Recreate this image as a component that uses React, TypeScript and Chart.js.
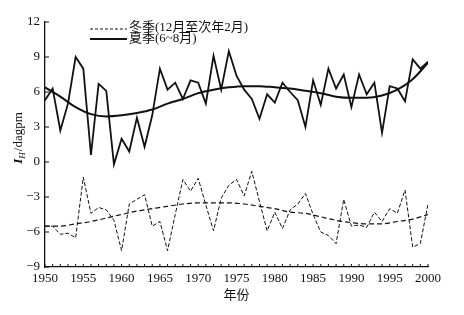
import React, { useEffect, useRef } from "react";
import { Chart, registerables } from "chart.js";

Chart.register(...registerables);

const years: number[] = [];
for (let y = 1950; y <= 2000; y++) years.push(y);

const summerValues = [
  5.3, 6.3, 2.7, 5.0, 9.0, 8.0, 0.6, 6.7, 6.1, -0.2,
  2.0, 0.9, 3.8, 1.3, 4.0, 8.0, 6.2, 6.8, 5.4, 7.0,
  6.8, 5.0, 9.1, 6.2, 9.5, 7.4, 6.2, 5.4, 3.7, 5.8,
  5.1, 6.8, 6.0, 5.3, 3.0, 7.0, 4.9, 8.0, 6.3, 7.5,
  4.7, 7.5, 5.8, 6.8, 2.5, 6.5, 6.3, 5.2, 8.8, 8.0,
  8.6,
];

const winterValues = [
  -5.5, -5.5, -6.2, -6.1, -6.5, -1.3, -4.4, -3.9, -4.1, -5.0,
  -7.6, -3.6, -3.2, -2.8, -5.5, -5.1, -7.6, -4.5, -1.5, -2.5,
  -1.4, -3.7, -5.9, -3.1, -2.0, -1.5, -2.9, -0.8, -3.4, -5.9,
  -4.3, -5.7, -4.1, -3.6, -2.7, -4.5, -6.0, -6.3, -7.0, -3.2,
  -5.5, -5.4, -5.6, -4.3, -5.1, -4.0, -4.4, -2.4, -7.3, -7.0,
  -3.6,
];

const trendYears = [
  1950, 1952, 1954, 1956, 1958, 1960, 1962, 1964, 1966, 1968, 1970, 1972, 1974,
  1976, 1978, 1980, 1982, 1984, 1986, 1988, 1990, 1992, 1994, 1996, 1998, 2000,
];
const summerTrend = [
  6.4, 5.6, 4.7, 4.1, 3.9, 4.0, 4.2, 4.5, 5.0, 5.4, 5.9, 6.2, 6.4,
  6.5, 6.5, 6.4, 6.3, 6.1, 5.9, 5.6, 5.5, 5.5, 5.7, 6.2, 7.1, 8.5,
];
const winterTrend = [
  -5.5, -5.5, -5.3, -5.1, -4.8, -4.5, -4.2, -4.0, -3.8, -3.6, -3.5, -3.5, -3.5,
  -3.6, -3.8, -4.0, -4.3, -4.4, -4.7, -5.0, -5.2, -5.3, -5.3, -5.1, -4.9, -4.5,
];

const yTicks = [-9, -6, -3, 0, 3, 6, 9, 12];
const xTicks = [1950, 1955, 1960, 1965, 1970, 1975, 1980, 1985, 1990, 1995, 2000];

const legendWinter = "冬季(12月至次年2月)";
const legendSummer = "夏季(6~8月)";
const xTitle = "年份";

const FONT = "'Liberation Serif', 'Noto Sans CJK SC', serif";
const INK = "#111111";

const pts = (xs: number[], ys: number[]) => xs.map((x, i) => ({ x, y: ys[i] }));

const decorPlugin = {
  id: "decor",
  afterDraw(chart: any) {
    const { ctx, chartArea, scales } = chart;
    const xs = scales.x;
    const ys = scales.y;
    ctx.save();
    ctx.strokeStyle = INK;
    ctx.lineWidth = 1;
    yTicks.forEach((v) => {
      const py = ys.getPixelForValue(v);
      ctx.beginPath();
      ctx.moveTo(chartArea.left, py);
      ctx.lineTo(chartArea.left + 4, py);
      ctx.stroke();
    });
    years.forEach((yr) => {
      const px = xs.getPixelForValue(yr);
      ctx.beginPath();
      ctx.moveTo(px, chartArea.bottom);
      ctx.lineTo(px, chartArea.bottom - 3);
      ctx.stroke();
    });
    const lx0 = 90;
    const lx1 = 127;
    ctx.lineWidth = 1;
    ctx.setLineDash([3, 2]);
    ctx.beginPath();
    ctx.moveTo(lx0, 29);
    ctx.lineTo(lx1, 29);
    ctx.stroke();
    ctx.setLineDash([]);
    ctx.lineWidth = 1.8;
    ctx.beginPath();
    ctx.moveTo(lx0, 39);
    ctx.lineTo(lx1, 39);
    ctx.stroke();
    ctx.fillStyle = INK;
    ctx.font = `13px ${FONT}`;
    ctx.textBaseline = "middle";
    ctx.textAlign = "left";
    ctx.fillText(legendWinter, 129, 28);
    ctx.fillText(legendSummer, 129, 39);
    ctx.textAlign = "center";
    ctx.fillText(xTitle, (chartArea.left + chartArea.right) / 2, 296);
    ctx.translate(17, 138);
    ctx.rotate(-Math.PI / 2);
    ctx.textAlign = "left";
    ctx.textBaseline = "alphabetic";
    const fI = `italic bold 13px ${FONT}`;
    const fH = `italic 9px ${FONT}`;
    const fR = `13px ${FONT}`;
    ctx.font = fI;
    const wI = ctx.measureText("I").width;
    ctx.font = fH;
    const wH = ctx.measureText("H").width;
    ctx.font = fR;
    const wR = ctx.measureText("/dagpm").width;
    const total = wI + wH + 1 + wR;
    let cx = -total / 2;
    const base = 5;
    ctx.font = fI;
    ctx.fillText("I", cx, base);
    cx += wI;
    ctx.font = fH;
    ctx.fillText("H", cx, base + 3);
    cx += wH + 1;
    ctx.font = fR;
    ctx.fillText("/dagpm", cx, base);
    ctx.restore();
  },
};

export default function App() {
  const ref = useRef<HTMLCanvasElement | null>(null);
  useEffect(() => {
    document.body.style.margin = "0";
    if (!ref.current) return;
    const chart = new Chart(ref.current, {
      type: "line",
      data: {
        datasets: [
          {
            label: "冬季",
            data: pts(years, winterValues),
            borderColor: INK,
            borderWidth: 1,
            borderDash: [4, 2],
            pointRadius: 0,
            tension: 0,
            fill: false,
          },
          {
            label: "冬季趋势",
            data: pts(trendYears, winterTrend),
            borderColor: INK,
            borderWidth: 1.2,
            borderDash: [5, 3],
            pointRadius: 0,
            cubicInterpolationMode: "monotone",
            fill: false,
          },
          {
            label: "夏季",
            data: pts(years, summerValues),
            borderColor: INK,
            borderWidth: 1.8,
            pointRadius: 0,
            tension: 0,
            fill: false,
          },
          {
            label: "夏季趋势",
            data: pts(trendYears, summerTrend),
            borderColor: INK,
            borderWidth: 2,
            pointRadius: 0,
            cubicInterpolationMode: "monotone",
            fill: false,
          },
        ],
      },
      options: {
        responsive: false,
        animation: false,
        layout: { padding: { top: 22, right: 36, left: 0, bottom: 0 } },
        plugins: { legend: { display: false }, tooltip: { enabled: false } },
        scales: {
          x: {
            type: "linear",
            min: 1950,
            max: 2000,
            afterFit: (s: any) => {
              s.height = 48;
            },
            afterBuildTicks: (s: any) => {
              s.ticks = xTicks.map((v) => ({ value: v }));
            },
            ticks: {
              color: INK,
              font: { family: FONT, size: 13 },
              padding: 4,
              maxRotation: 0,
              autoSkip: false,
              callback: (v: any) => String(v),
            },
            grid: { display: false, drawTicks: false },
            border: { display: true, color: INK, width: 1.3 },
          },
          y: {
            type: "linear",
            min: -9,
            max: 12,
            afterFit: (s: any) => {
              s.width = 45;
            },
            afterBuildTicks: (s: any) => {
              s.ticks = yTicks.map((v) => ({ value: v }));
            },
            ticks: {
              color: INK,
              font: { family: FONT, size: 13 },
              padding: 5,
              autoSkip: false,
              callback: (v: any) => (v < 0 ? "\u2212" + Math.abs(v) : String(v)),
            },
            grid: { display: false, drawTicks: false },
            border: { display: true, color: INK, width: 1.3 },
          },
        },
      },
      plugins: [decorPlugin],
    } as any);
    return () => chart.destroy();
  }, []);
  return (
    <div style={{ width: 464, height: 315, background: "#fff" }}>
      <canvas ref={ref} width={464} height={315} style={{ display: "block" }} />
    </div>
  );
}
